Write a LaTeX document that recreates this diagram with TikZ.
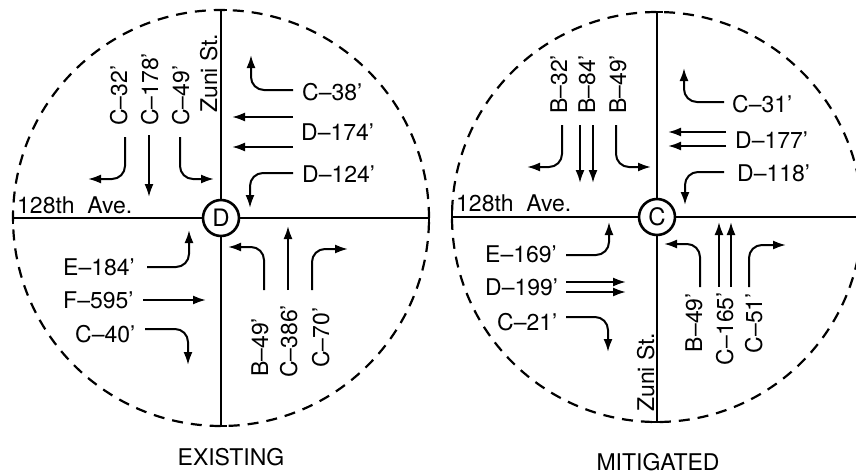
\documentclass[tikz,border=0pt]{standalone}
\usepackage{fontspec}
\setmainfont{TeX Gyre Heros}
\usetikzlibrary{arrows.meta}
\begin{document}
\begin{tikzpicture}[x=1pt,y=-1pt,
  road/.style={line width=2.4pt},
  ring/.style={line width=2.2pt,dash pattern=on 11pt off 8pt},
  mv/.style={line width=2pt,rounded corners=13pt,-{Latex[length=13pt,width=9pt]}},
  lbl/.style={font=\fontsize{23}{26}\selectfont,inner sep=0pt},
  vlbl/.style={lbl,rotate=90},
  ctrl/.style={circle,draw,fill=white,line width=2.6pt,minimum size=36pt,inner sep=0pt,font=\fontsize{24}{26}\selectfont}]
\useasboundingbox[fill=white] (0,0) rectangle (856,474);

% ================= EXISTING =================
\coordinate (Lc) at (221,218);
\draw[ring] (Lc) circle[radius=208pt];
\coordinate (LN) at (221,10);
\coordinate (LS) at (221,426);
\coordinate (LW) at (13,218);
\coordinate (LE) at (429,218);
\draw[road] (LN) -- (LS);
\draw[road] (LW) -- (LE);
\draw[road] ([xshift=-6pt]LN) -- ([xshift=6pt]LN);
\draw[road] ([xshift=-6pt]LS) -- ([xshift=6pt]LS);
\draw[road] ([yshift=-6pt]LW) -- ([yshift=6pt]LW);
\draw[road] ([yshift=-6pt]LE) -- ([yshift=6pt]LE);
\node[ctrl] (D) at (Lc) {D};

\node[lbl,anchor=base west] (LAve) at (17,213) {128th\ \ Ave.};
\node[vlbl,anchor=base west] (LZuni) at (217,113) {Zuni St.};

% southbound
\node[vlbl,anchor=base west] (l1) at (127,126) {C–32’};
\node[vlbl,anchor=base west] (l2) at (158,126) {C–178’};
\node[vlbl,anchor=base west] (l3) at (189,126) {C–49’};
\draw[mv] (125,137) -- (125,179) -- (88,179);
\draw[mv] (149,135) -- (149,197);
\draw[mv] (180,137) -- (180,179) -- (214,179);

% westbound
\node[lbl,anchor=base west] (l4) at (302,100) {C–38’};
\node[lbl,anchor=base west] (l5) at (301,140) {D–174’};
\node[lbl,anchor=base west] (l6) at (302,182) {D–124’};
\draw[mv] (293,90) -- (251,90) -- (251,55);
\draw[mv] (293,117) -- (232,117);
\draw[mv] (293,147) -- (232,147);
\draw[mv] (293,173) -- (250,173) -- (250,208);

% eastbound
\node[lbl,anchor=base west] (l7) at (63,275) {E–184’};
\node[lbl,anchor=base west] (l8) at (63,308) {F–595’};
\node[lbl,anchor=base west] (l9) at (75,342) {C–40’};
\draw[mv] (147,267) -- (189,267) -- (189,230);
\draw[mv] (143,300) -- (206,300);
\draw[mv] (145,329) -- (188,329) -- (188,365);

% northbound
\node[vlbl,anchor=base west] (l10) at (268,377) {B–49’};
\node[vlbl,anchor=base west] (l11) at (297,378) {C–386’};
\node[vlbl,anchor=base west] (l12) at (329,368) {C–70’};
\draw[mv] (264,290) -- (264,247) -- (228,247);
\draw[mv] (288,290) -- (288,226);
\draw[mv] (312,290) -- (312,249) -- (348,249);

\node[lbl,anchor=base] (T1) at (231,465) {EXISTING};

% ================= MITIGATED =================
\coordinate (Rc) at (657,217);
\draw[ring] (Rc) circle[radius=205pt];
\coordinate (RN) at (657,12);
\coordinate (RS) at (657,422);
\coordinate (RW) at (452,217);
\coordinate (RE) at (862,217);
\draw[road] (RN) -- (RS);
\draw[road] (RW) -- (RE);
\draw[road] ([xshift=-6pt]RN) -- ([xshift=6pt]RN);
\draw[road] ([xshift=-6pt]RS) -- ([xshift=6pt]RS);
\draw[road] ([yshift=-6pt]RW) -- ([yshift=6pt]RW);
\node[ctrl] (C) at (Rc) {C};

\node[lbl,anchor=base west] (RAve) at (456,211) {128th\ \ Ave.};
\node[vlbl,anchor=base west] (RZuni) at (654,412) {Zuni St.};

% southbound
\node[vlbl,anchor=base west] (r1) at (567,114) {B–32’};
\node[vlbl,anchor=base west] (r2) at (595,114) {B–84’};
\node[vlbl,anchor=base west] (r3) at (626,114) {B–49’};
\draw[mv] (562,125) -- (562,167) -- (527,167);
\draw[mv] (580,125) -- (580,183);
\draw[mv] (593,125) -- (593,183);
\draw[mv] (616,125) -- (616,167) -- (651,167);

% westbound
\node[lbl,anchor=base west] (r4) at (732,112) {C–31’};
\node[lbl,anchor=base west] (r5) at (735,148) {D–177’};
\node[lbl,anchor=base west] (r6) at (737,181) {D–118’};
\draw[mv] (724,102) -- (684,102) -- (684,68);
\draw[mv] (726,132) -- (668,132);
\draw[mv] (726,146) -- (668,146);
\draw[mv] (724,172) -- (685,172) -- (685,205);

% eastbound
\node[lbl,anchor=base west] (r7) at (485,262) {E–169’};
\node[lbl,anchor=base west] (r8) at (485,295) {D–199’};
\node[lbl,anchor=base west] (r9) at (497,330) {C–21’};
\draw[mv] (566,255) -- (609,255) -- (609,222);
\draw[mv] (566,282) -- (626,282);
\draw[mv] (566,292) -- (626,292);
\draw[mv] (566,317) -- (608,317) -- (608,352);

% northbound
\node[vlbl,anchor=base east] (r10) at (702,293) {B–49’};
\node[vlbl,anchor=base east] (r11) at (733,292) {C–165’};
\node[vlbl,anchor=base east] (r12) at (762,293) {C–51’};
\draw[mv] (700,287) -- (700,244) -- (664,244);
\draw[mv] (719,287) -- (719,222);
\draw[mv] (731,287) -- (731,222);
\draw[mv] (749,287) -- (749,245) -- (786,245);

\node[lbl,anchor=base] (T2) at (658,470) {MITIGATED};
\end{tikzpicture}
\end{document}
